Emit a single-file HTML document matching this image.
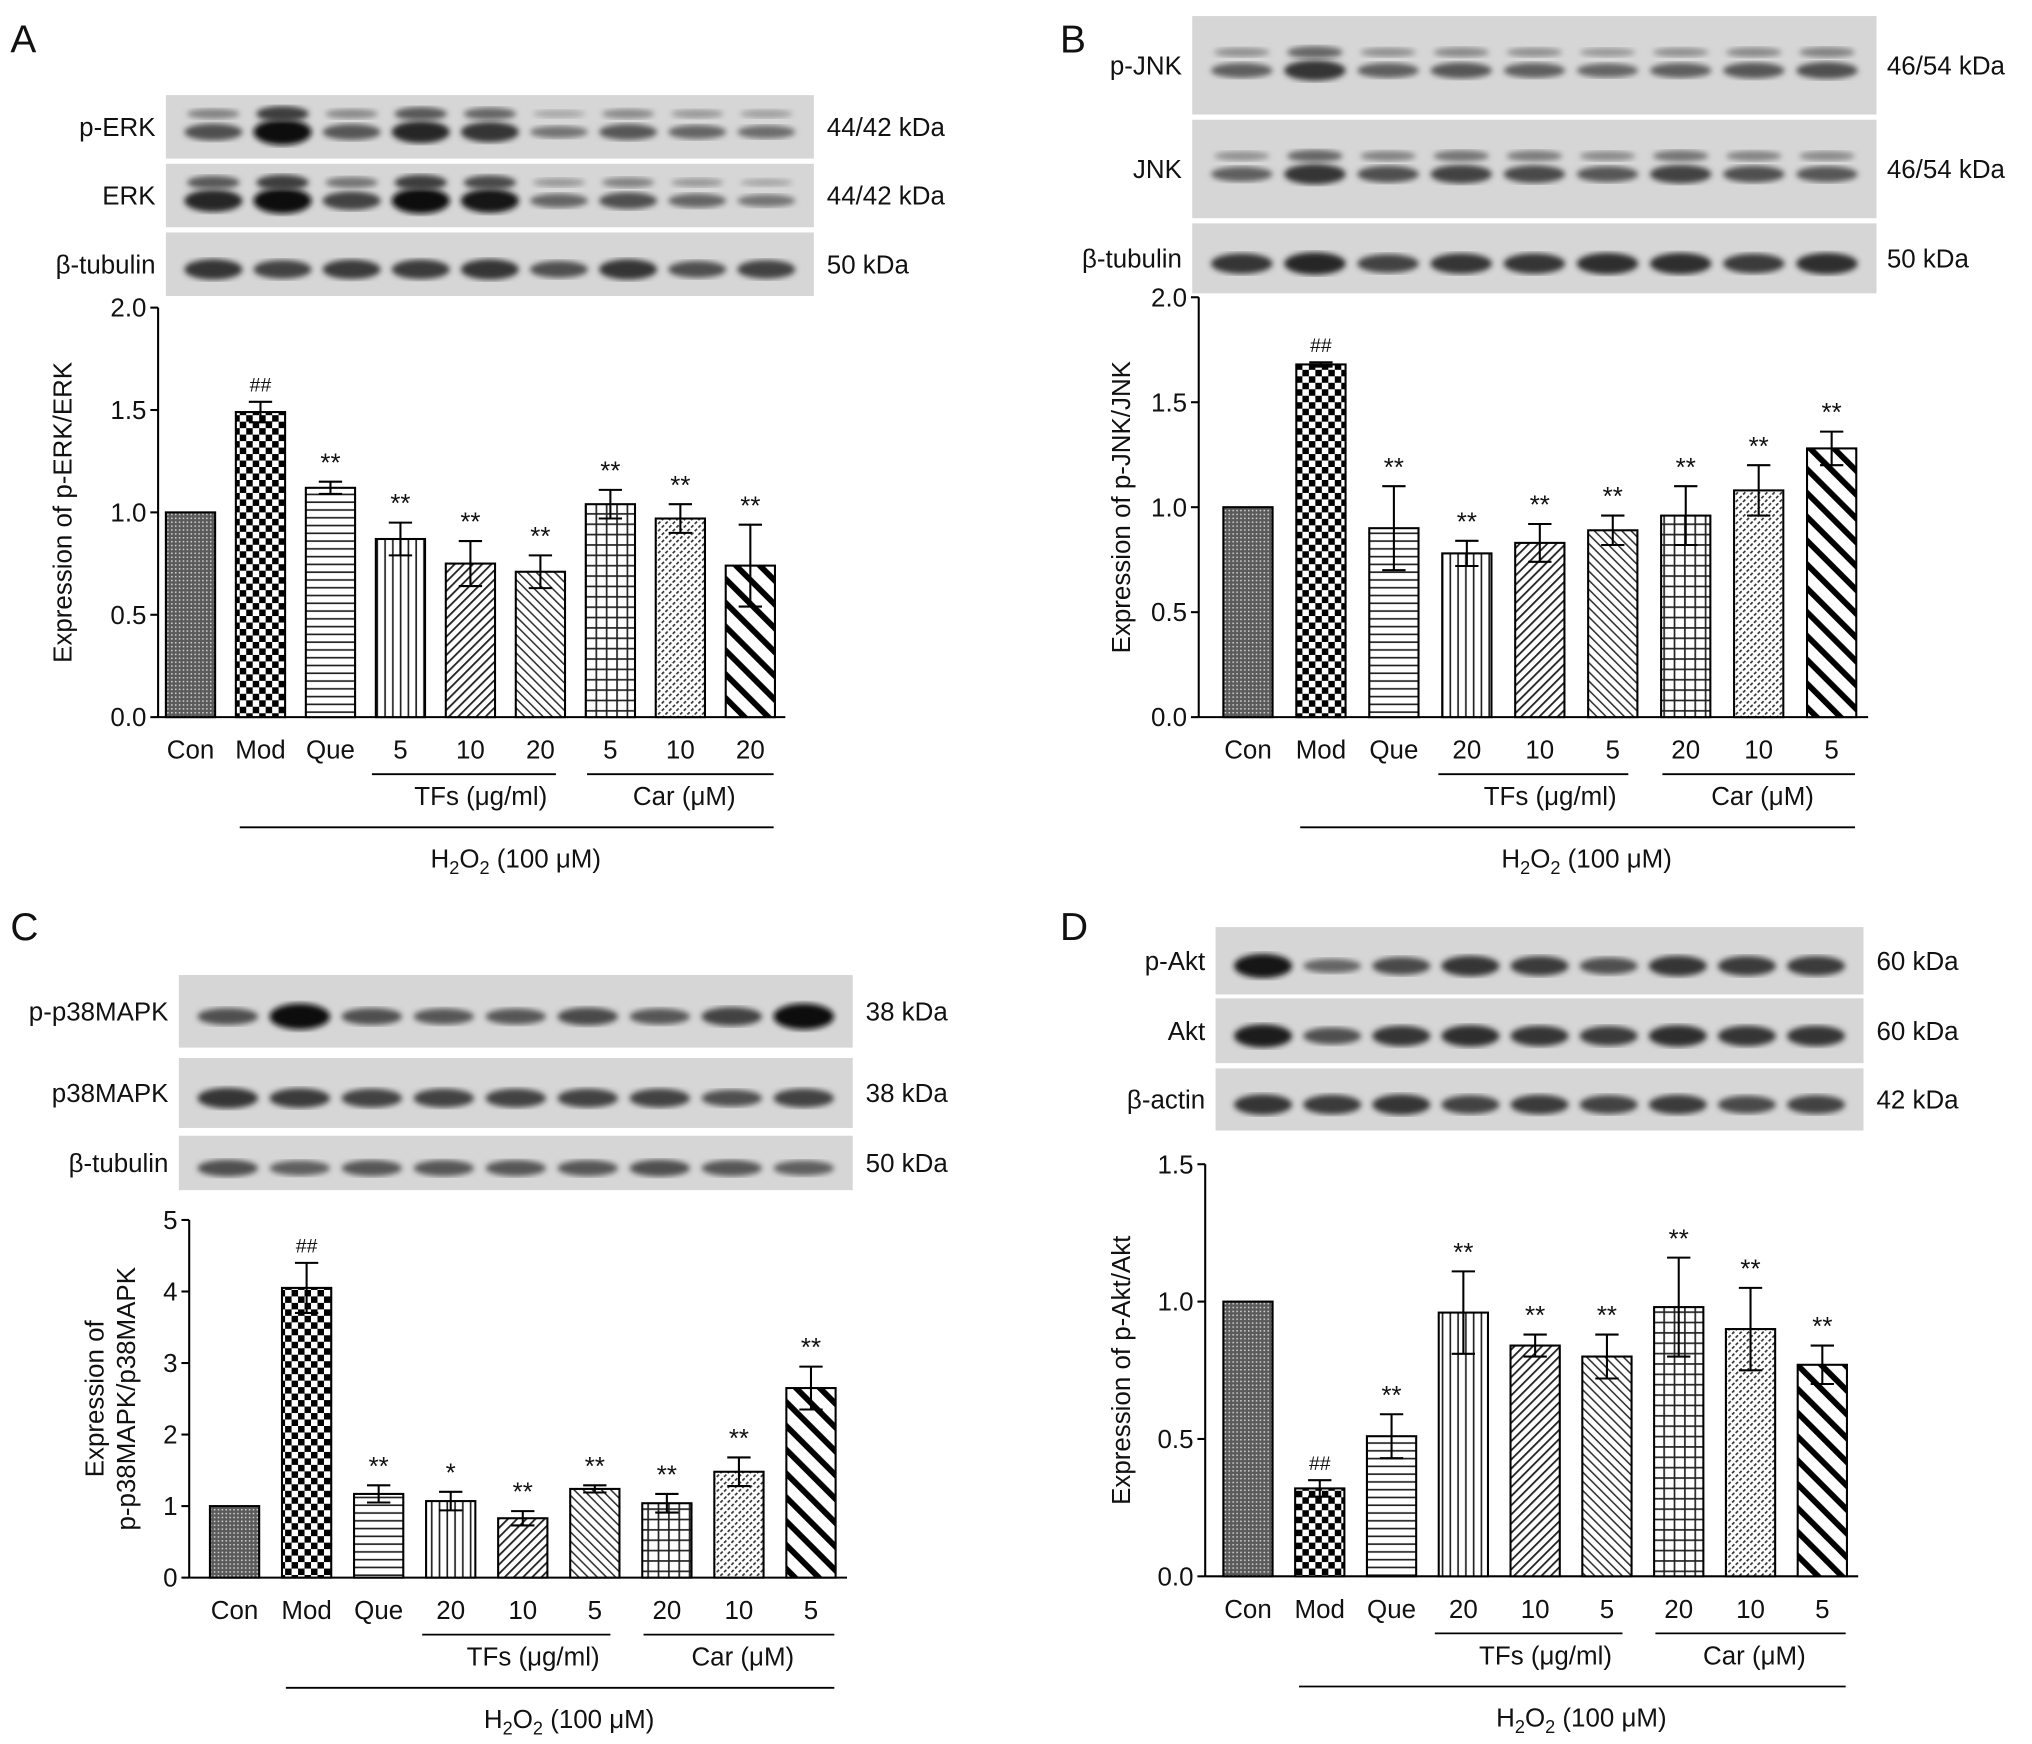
<!DOCTYPE html>
<html><head><meta charset="utf-8"><style>
html,body{margin:0;padding:0;background:#fff}
svg{display:block}
text{font-family:"Liberation Sans",Arial,sans-serif;fill:#111}
</style></head><body>
<svg id="fig" xmlns="http://www.w3.org/2000/svg" width="2032" height="1744" viewBox="0 0 1568 1345">
<defs>
<pattern id="pCon" width="3" height="3" patternUnits="userSpaceOnUse"><rect width="3" height="3" fill="#5a5a5a"/><rect width="1.2" height="1.2" fill="#cfcfcf"/></pattern>
<pattern id="pMod" width="10" height="10" patternUnits="userSpaceOnUse"><rect width="10" height="10" fill="#fff"/><rect width="5" height="5" fill="#000"/><rect x="5" y="5" width="5" height="5" fill="#000"/></pattern>
<pattern id="pQue" width="6" height="6" patternUnits="userSpaceOnUse"><rect width="6" height="6" fill="#fff"/><rect y="2.5" width="6" height="1.3" fill="#222"/></pattern>
<pattern id="pV" width="6" height="6" patternUnits="userSpaceOnUse"><rect width="6" height="6" fill="#fff"/><rect x="2.5" width="1.3" height="6" fill="#222"/></pattern>
<pattern id="pD1" width="5" height="5" patternUnits="userSpaceOnUse" patternTransform="rotate(45)"><rect width="5" height="5" fill="#fff"/><rect width="1.4" height="5" fill="#222"/></pattern>
<pattern id="pD2" width="5" height="5" patternUnits="userSpaceOnUse" patternTransform="rotate(-45)"><rect width="5" height="5" fill="#fff"/><rect width="1.2" height="5" fill="#333"/></pattern>
<pattern id="pGrid" width="8" height="8" patternUnits="userSpaceOnUse"><rect width="8" height="8" fill="#fff"/><rect x="3.5" width="1.3" height="8" fill="#222"/><rect y="3.5" width="8" height="1.3" fill="#222"/></pattern>
<pattern id="pDot" width="4" height="4" patternUnits="userSpaceOnUse" patternTransform="rotate(45)"><rect width="4" height="4" fill="#fff"/><rect width="1.3" height="2.5" fill="#333"/></pattern>
<pattern id="pThick" width="13" height="13" patternUnits="userSpaceOnUse" patternTransform="rotate(-45)"><rect width="13" height="13" fill="#fff"/><rect width="4.5" height="13" fill="#000"/></pattern>
<filter id="blur"><feGaussianBlur stdDeviation="2.2"/></filter>
</defs>
</svg>
<script>
// ---- data ----
const fills = ['pCon','pMod','pQue','pV','pD1','pD2','pGrid','pDot','pThick'];
const catsA = ['Con','Mod','Que','5','10','20','5','10','20'];
const valsA = [1.0,1.49,1.12,0.87,0.75,0.71,1.04,0.97,0.74];
const errsA = [0,0.05,0.03,0.08,0.11,0.08,0.07,0.07,0.2];
const sigA = ['','##','**','**','**','**','**','**','**'];
const ticksA = ['0.0','0.5','1.0','1.5','2.0'];
const catsB = ['Con','Mod','Que','20','10','5','20','10','5'];
const valsB = [1.0,1.68,0.9,0.78,0.83,0.89,0.96,1.08,1.28];
const errsB = [0,0.01,0.2,0.06,0.09,0.07,0.14,0.12,0.08];
const sigB = ['','##','**','**','**','**','**','**','**'];
const ticksB = ['0.0','0.5','1.0','1.5','2.0'];
const catsC = ['Con','Mod','Que','20','10','5','20','10','5'];
const valsC = [1.0,4.05,1.17,1.07,0.83,1.24,1.04,1.48,2.65];
const errsC = [0,0.35,0.12,0.13,0.1,0.05,0.13,0.2,0.3];
const sigC = ['','##','**','*','**','**','**','**','**'];
const ticksC = ['0','1','2','3','4','5'];
const catsD = ['Con','Mod','Que','20','10','5','20','10','5'];
const valsD = [1.0,0.32,0.51,0.96,0.84,0.8,0.98,0.9,0.77];
const errsD = [0,0.03,0.08,0.15,0.04,0.08,0.18,0.15,0.07];
const sigD = ['','##','**','**','**','**','**','**','**'];
const ticksD = ['0.0','0.5','1.0','1.5'];
const bandsA = [[0.5,1,0.45,0.8,0.7,0.25,0.45,0.35,0.3],[0.8,1,0.6,1,0.9,0.35,0.5,0.35,0.25],[0.7,0.6,0.65,0.65,0.7,0.5,0.7,0.5,0.6]];
const bandsB = [[0.4,0.7,0.4,0.45,0.4,0.35,0.4,0.45,0.5],[0.4,0.7,0.5,0.6,0.55,0.45,0.6,0.5,0.45],[0.7,0.8,0.6,0.7,0.7,0.75,0.75,0.65,0.75]];
const bandsC = [[0.5,1,0.5,0.45,0.45,0.55,0.45,0.6,1],[0.7,0.65,0.6,0.6,0.6,0.6,0.6,0.5,0.6],[0.5,0.4,0.45,0.45,0.45,0.45,0.5,0.45,0.4]];
const bandsD = [[0.9,0.35,0.55,0.7,0.65,0.5,0.7,0.65,0.65],[0.85,0.5,0.7,0.75,0.7,0.65,0.75,0.7,0.7],[0.7,0.65,0.7,0.6,0.65,0.6,0.65,0.55,0.6]];

const NS='http://www.w3.org/2000/svg';
const svg=document.getElementById('fig');
function mk(tag,attrs,parent){const e=document.createElementNS(NS,tag);for(const k in attrs)e.setAttribute(k,attrs[k]);(parent||svg).appendChild(e);return e;}
function txt(x,y,s,size,anchor,parent){const t=mk('text',{x:x,y:y,'font-size':size,'text-anchor':anchor||'middle'},parent);t.textContent=s;return t;}

function panel(cfg){
  const g=mk('g',{});
  
  
  const L=txt(cfg.letterX,cfg.letterY,cfg.id,30,'start',g);
  
  
  // blots
  const n=cfg.cats.length;
  cfg.rows.forEach((r,ri)=>{
    const rg=mk('g',{},g);
    
    
    mk('rect',{x:cfg.bx0,y:r.y0,width:cfg.bx1-cfg.bx0,height:r.y1-r.y0,fill:'#d6d6d6'},rg);
    const step=(cfg.bx1-cfg.bx0-20)/n;
    const cy=(r.y0+r.y1)/2+4;
    cfg.bands[ri].forEach((v,i)=>{
      const cx=cfg.bx0+10+step*(i+0.5);
      const c=Math.round(150-140*v);
      mk('ellipse',{cx:cx,cy:cy,rx:step*0.42,ry:3+7*v,fill:'rgb('+c+','+c+','+c+')',filter:'url(#blur)'},rg);
      if(r.double) mk('ellipse',{cx:cx,cy:cy-14,rx:step*0.38,ry:2+4*v,fill:'rgb('+(c+50)+','+(c+50)+','+(c+50)+')',filter:'url(#blur)'},rg);
    });
    txt(cfg.bx0-8,cy+3,r.label,20,'end',rg);
    txt(cfg.kx,cy+3,r.kda,20,'start',rg);
  });
  // axes
  const ax=cfg.ax, y0=cfg.y0, y1=cfg.y1, ymax=cfg.ymax;
  const ys=v=>y0-(v/ymax)*(y0-y1);
  const xs=i=>cfg.x0+cfg.dx*i;
  const ag=mk('g',{},g);
  
  
  mk('line',{x1:ax,y1:y1,x2:ax,y2:y0,stroke:'#000','stroke-width':1.6},ag);
  mk('line',{x1:ax,y1:y0,x2:xs(n-1)+cfg.dx/2,y2:y0,stroke:'#000','stroke-width':1.6},ag);
  cfg.ticks.forEach(t=>{const y=ys(parseFloat(t));mk('line',{x1:ax-6,y1:y,x2:ax,y2:y,stroke:'#000','stroke-width':1.6},ag);txt(ax-9,y+7,t,20,'end',ag);});
  const tl=mk('g',{transform:'translate('+cfg.tx+','+((y0+y1)/2)+') rotate(-90)'},g);
  
  
  cfg.title.forEach((s,i)=>txt(0,i*24,s,20,'middle',tl));
  // bars
  cfg.vals.forEach((v,i)=>{
    const bw=38, x=xs(i)-bw/2, y=ys(v);
    const b=mk('rect',{x:x,y:y,width:bw,height:y0-y,fill:'url(#'+fills[i]+')',stroke:'#000','stroke-width':1.6},g);
    
    
    const e=cfg.errs[i];
    if(e>0){
      const eh=ys(v+e), el=ys(v-e);
      mk('line',{x1:xs(i),y1:eh,x2:xs(i),y2:el,stroke:'#000','stroke-width':1.6},g);
      mk('line',{x1:xs(i)-9,y1:eh,x2:xs(i)+9,y2:eh,stroke:'#000','stroke-width':1.6},g);
      mk('line',{x1:xs(i)-9,y1:el,x2:xs(i)+9,y2:el,stroke:'#000','stroke-width':1.6},g);
    }
    if(cfg.sig[i]){
      const s=txt(xs(i),ys(v+e)-8,cfg.sig[i],cfg.sig[i]=='##'?15:20,'middle',g);
      
      
    }
    const xl=txt(xs(i),y0+32,cfg.cats[i],20,'middle',g);
    
    
  });
  // group lines
  const gl=y0+44;
  mk('line',{x1:xs(3)-22,y1:gl,x2:xs(5)+12,y2:gl,stroke:'#000','stroke-width':1.4},g);
  mk('line',{x1:xs(6)-18,y1:gl,x2:xs(8)+18,y2:gl,stroke:'#000','stroke-width':1.4},g);
  const t1=txt(xs(4)+8,gl+24,'TFs (μg/ml)',20,'middle',g);
  
  
  const t2=txt(xs(7)+3,gl+24,'Car (μM)',20,'middle',g);
  
  
  const hl=y0+85;
  mk('line',{x1:xs(1)-16,y1:hl,x2:xs(8)+18,y2:hl,stroke:'#000','stroke-width':1.4},g);
  const h=mk('text',{x:(xs(1)+xs(8))/2+8,y:hl+31,'font-size':20,'text-anchor':'middle'},g);
  
  
  h.innerHTML='H<tspan dy="5" font-size="14">2</tspan><tspan dy="-5">O</tspan><tspan dy="5" font-size="14">2</tspan><tspan dy="-5"> (100 μM)</tspan>';
}

panel({id:'A',letterX:8,letterY:40,cats:catsA,vals:valsA,errs:errsA,sig:sigA,ticks:ticksA,bands:bandsA,
  bx0:128,bx1:628,kx:638,rows:[{y0:73,y1:122,label:'p-ERK',kda:'44/42 kDa',double:true},{y0:126,y1:175,label:'ERK',kda:'44/42 kDa',double:true},{y0:179,y1:228,label:'β-tubulin',kda:'50 kDa'}],
  ax:122,y0:553,y1:237,ymax:2,x0:147,dx:54,tx:55,title:['Expression of p-ERK/ERK']});
panel({id:'B',letterX:818,letterY:40,cats:catsB,vals:valsB,errs:errsB,sig:sigB,ticks:ticksB,bands:bandsB,
  bx0:920,bx1:1448,kx:1456,rows:[{y0:12,y1:88,label:'p-JNK',kda:'46/54 kDa',double:true},{y0:92,y1:168,label:'JNK',kda:'46/54 kDa',double:true},{y0:172,y1:226,label:'β-tubulin',kda:'50 kDa'}],
  ax:925,y0:553,y1:229,ymax:2,x0:963,dx:56.3,tx:872,title:['Expression of p-JNK/JNK']});
panel({id:'C',letterX:8,letterY:725,cats:catsC,vals:valsC,errs:errsC,sig:sigC,ticks:ticksC,bands:bandsC,
  bx0:138,bx1:658,kx:668,rows:[{y0:752,y1:808,label:'p-p38MAPK',kda:'38 kDa'},{y0:816,y1:870,label:'p38MAPK',kda:'38 kDa'},{y0:876,y1:918,label:'β-tubulin',kda:'50 kDa'}],
  ax:146,y0:1217,y1:941,ymax:5,x0:181,dx:55.6,tx:80,title:['Expression of','p-p38MAPK/p38MAPK']});
panel({id:'D',letterX:818,letterY:725,cats:catsD,vals:valsD,errs:errsD,sig:sigD,ticks:ticksD,bands:bandsD,
  bx0:938,bx1:1438,kx:1448,rows:[{y0:715,y1:767,label:'p-Akt',kda:'60 kDa'},{y0:770,y1:820,label:'Akt',kda:'60 kDa'},{y0:824,y1:872,label:'β-actin',kda:'42 kDa'}],
  ax:930,y0:1216,y1:898,ymax:1.5,x0:963,dx:55.4,tx:872,title:['Expression of p-Akt/Akt']});
</script>
</body></html>
